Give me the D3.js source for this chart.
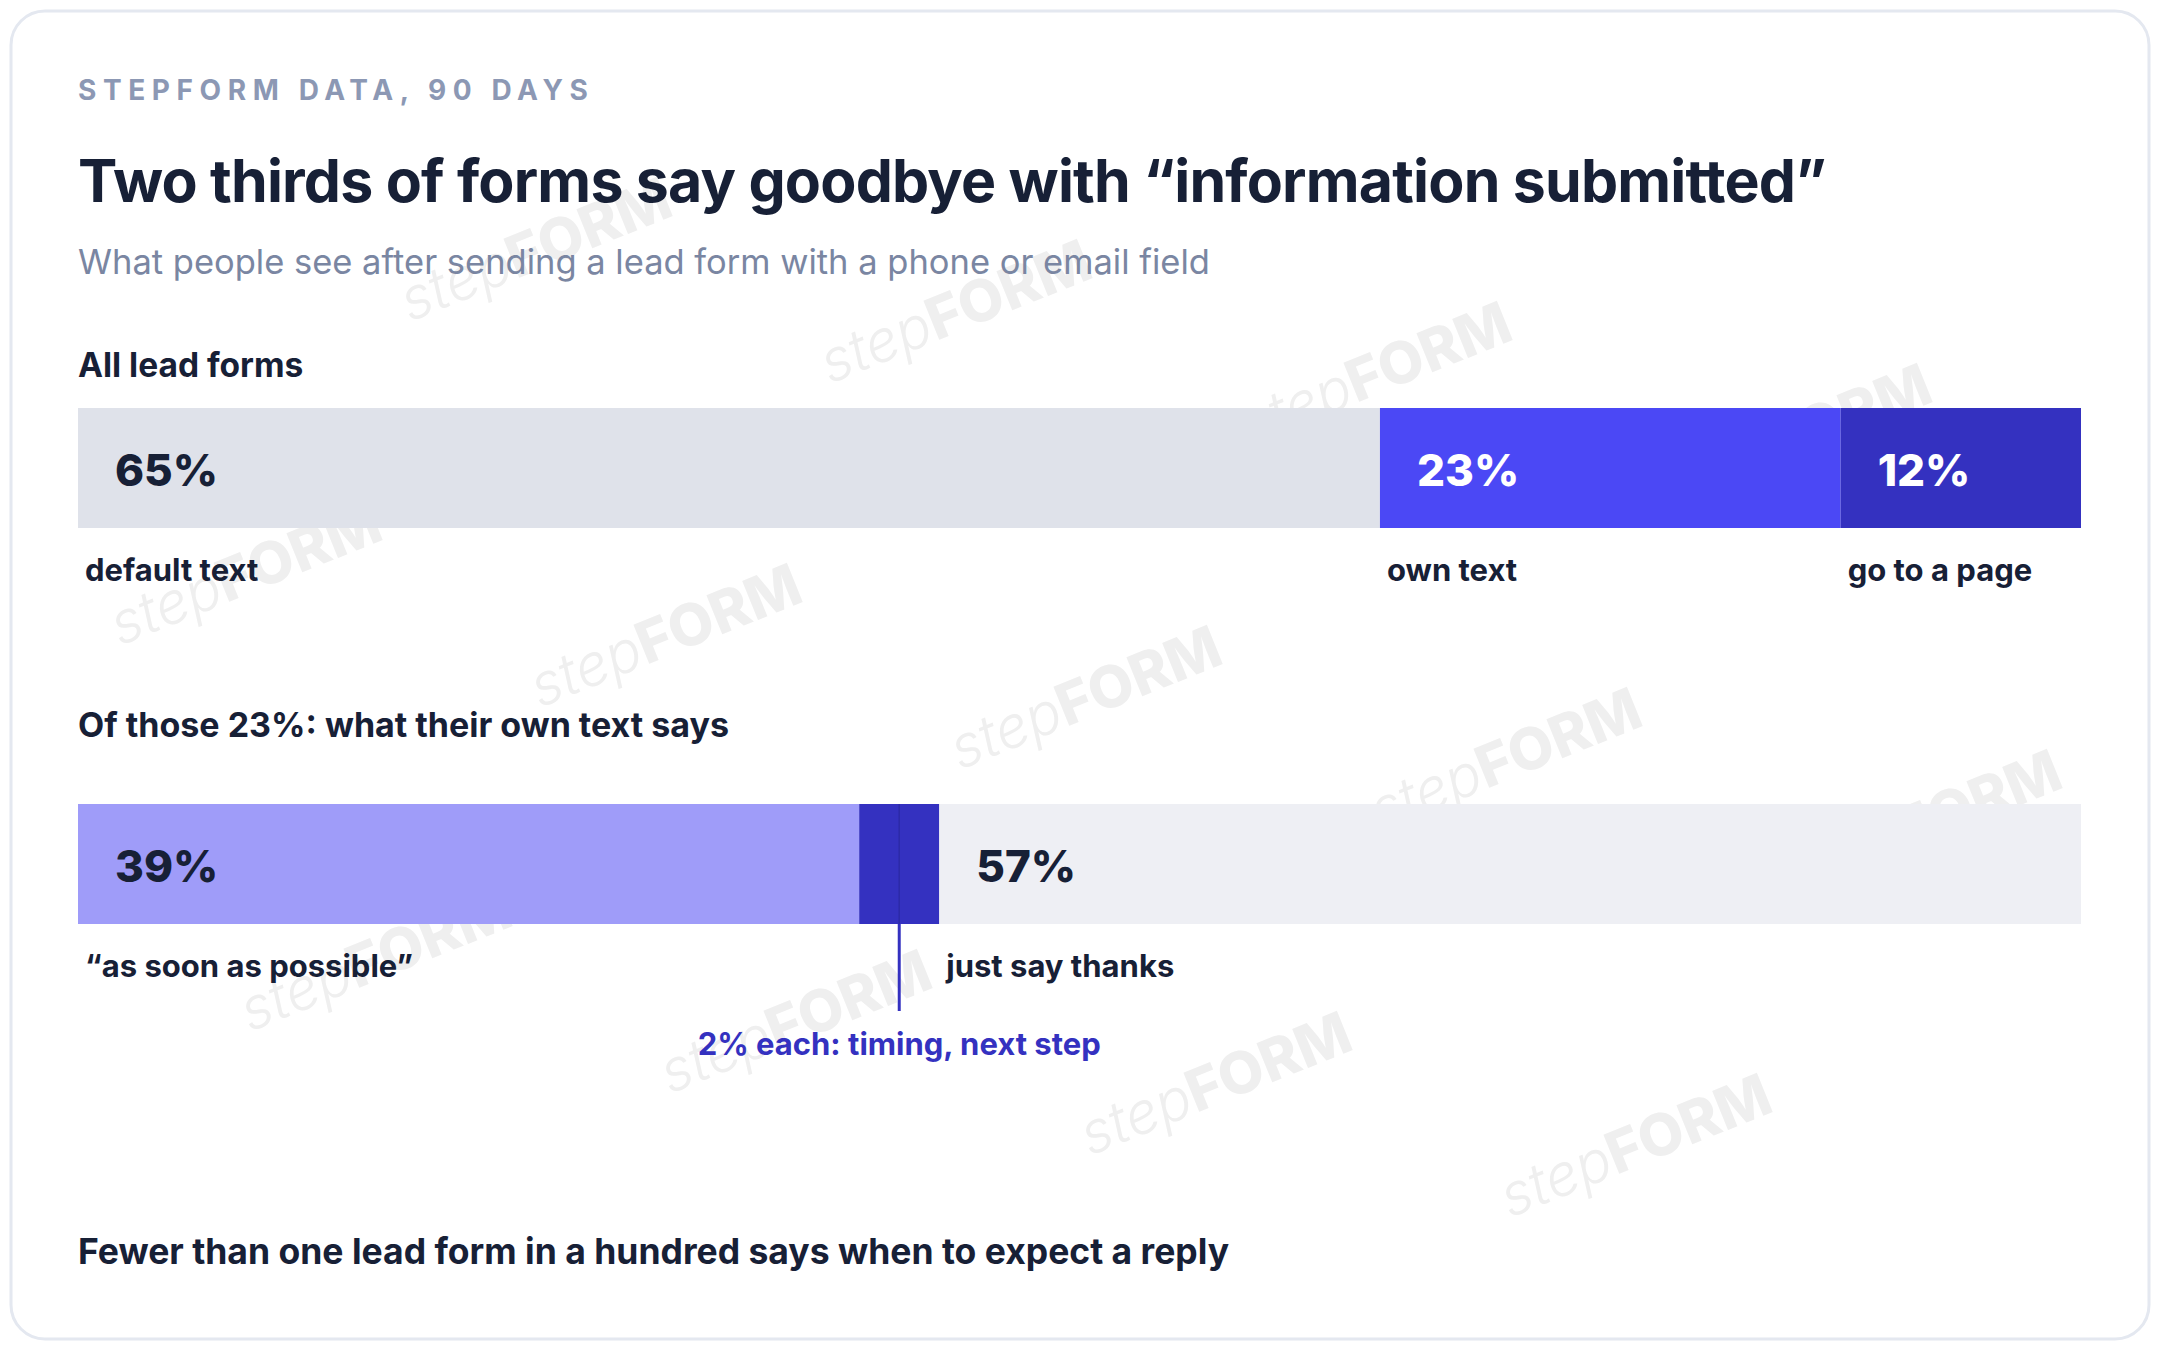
<!DOCTYPE html>
<html>
<head>
<meta charset="utf-8">
<script src="https://cdn.jsdelivr.net/npm/d3@7"></script>
<style>
  body { margin: 0; background: #fff; }
  text { font-family: Inter, "Noto Sans", sans-serif; }
</style>
</head>
<body>
<div id="viz"></div>
<script>
var width = 2160, height = 1350,
    margin = {left: 78, right: 79};

// data
var mainCats = ["default text", "own text", "go to a page"],
    mainVals = [65, 23, 12],
    mainColors = ["#dfe2ea", "#4b48f5", "#3431c0"],
    mainText = ["#172036", "#ffffff", "#ffffff"];

var subCats = ["\u201cas soon as possible\u201d", "timing", "next step", "just say thanks"],
    subVals = [39, 2, 2, 57],
    subColors = ["#9f9cf9", "#3431c0", "#3431c0", "#eeeff4"],
    subText = ["#172036", null, null, "#172036"];

function stack(vals) {
  var acc = 0;
  return vals.map(function(v, i) { var d = {i: i, v: v, x0: acc, x1: acc + v}; acc += v; return d; });
}

var x = d3.scaleLinear().domain([0, 100]).range([margin.left, width - margin.right]);

var svg = d3.select('#viz').append('svg')
  .attr('width', width).attr('height', height);

svg.append('rect')
  .attr('x', 11).attr('y', 11).attr('width', width - 22).attr('height', height - 22).attr('rx', 34)
  .attr('fill', '#fff').attr('stroke', '#e4e8f0').attr('stroke-width', 3);

// watermark (only those fully inside the card)
var wm = svg.append('g');
for (var r = -4; r < 8; r++) {
  for (var c = -4; c < 9; c++) {
    var px = c * 420 - r * 290 + 1120, py = c * 62 + r * 324 + 60;
    if (px < 30 || px + 300 > 2130 || py - 120 < 30 || py > 1320) continue;
    var t = wm.append('text')
      .attr('transform', 'translate(' + px + ',' + py + ') rotate(-22)')
      .attr('fill', '#efefef').attr('font-size', 58);
    t.append('tspan').attr('font-weight', 300).attr('font-style', 'italic').text('step');
    t.append('tspan').attr('font-weight', 800).text('FORM');
  }
}

var ink = '#172036';

svg.append('text').attr('x', margin.left).attr('y', 100)
  .attr('fill', '#8c98b4').attr('font-size', 28).attr('font-weight', 700)
  .attr('letter-spacing', 6.6).text('STEPFORM DATA, 90 DAYS');

svg.append('text').attr('x', margin.left).attr('y', 202)
  .attr('fill', ink).attr('font-size', 59).attr('font-weight', 700).attr('letter-spacing', -0.8)
  .text('Two thirds of forms say goodbye with \u201cinformation submitted\u201d');

svg.append('text').attr('x', margin.left).attr('y', 274)
  .attr('fill', '#7a86a2').attr('font-size', 34.5)
  .text('What people see after sending a lead form with a phone or email field');

// section 1
svg.append('text').attr('x', margin.left).attr('y', 377)
  .attr('fill', ink).attr('font-size', 33.5).attr('font-weight', 700).text('All lead forms');

var g1 = svg.append('g');
var s1 = stack(mainVals);
g1.selectAll('rect').data(s1).join('rect')
  .attr('x', d => x(d.x0)).attr('width', d => x(d.x1) - x(d.x0))
  .attr('y', 408).attr('height', 120)
  .attr('fill', d => mainColors[d.i]);
g1.selectAll('text.v').data(s1).join('text').attr('class', 'v')
  .attr('x', d => x(d.x0) + 37).attr('y', 486)
  .attr('fill', d => mainText[d.i]).attr('font-size', 44).attr('font-weight', 800)
  .text(d => d.v + '%');
g1.selectAll('text.c').data(s1).join('text').attr('class', 'c')
  .attr('x', d => x(d.x0) + 7).attr('y', 581)
  .attr('fill', ink).attr('font-size', 31).attr('font-weight', 700)
  .text(d => mainCats[d.i]);

// section 2
svg.append('text').attr('x', margin.left).attr('y', 737)
  .attr('fill', ink).attr('font-size', 34).attr('font-weight', 700).text('Of those 23%: what their own text says');

var g2 = svg.append('g');
var s2 = stack(subVals);
g2.selectAll('rect').data(s2).join('rect')
  .attr('x', d => x(d.x0)).attr('width', d => x(d.x1) - x(d.x0))
  .attr('y', 804).attr('height', 120)
  .attr('fill', d => subColors[d.i]);
g2.append('line')
  .attr('x1', x(s2[2].x0)).attr('x2', x(s2[2].x0)).attr('y1', 804).attr('y2', 924)
  .attr('stroke', '#2c29a8').attr('stroke-width', 1.5);
g2.selectAll('text.v').data(s2.filter(d => subText[d.i])).join('text').attr('class', 'v')
  .attr('x', d => x(d.x0) + 37).attr('y', 882)
  .attr('fill', d => subText[d.i]).attr('font-size', 44).attr('font-weight', 800)
  .text(d => d.v + '%');
g2.selectAll('text.c').data(s2.filter(d => subText[d.i])).join('text').attr('class', 'c')
  .attr('x', d => x(d.x0) + 7).attr('y', 977)
  .attr('fill', ink).attr('font-size', 31).attr('font-weight', 700)
  .text(d => subCats[d.i]);

var mx = x(s2[2].x0);
g2.append('line').attr('x1', mx).attr('x2', mx).attr('y1', 924).attr('y2', 1011)
  .attr('stroke', '#3431c0').attr('stroke-width', 3);
g2.append('text').attr('x', mx).attr('y', 1055).attr('text-anchor', 'middle')
  .attr('fill', '#3431c0').attr('font-size', 31).attr('font-weight', 700)
  .text(subVals[1] + '% each: ' + subCats[1] + ', ' + subCats[2]);

svg.append('text').attr('x', margin.left).attr('y', 1264)
  .attr('fill', ink).attr('font-size', 35.5).attr('font-weight', 700)
  .text('Fewer than one lead form in a hundred says when to expect a reply');
</script>
</body>
</html>
